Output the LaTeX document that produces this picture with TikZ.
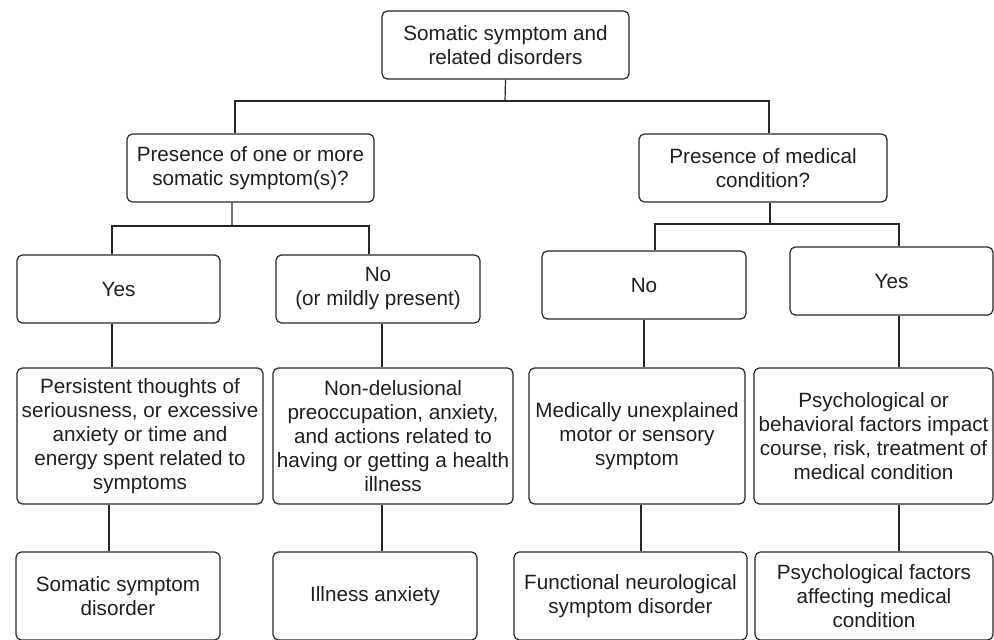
\documentclass[tikz,border=0pt]{standalone}
\usepackage{fontspec}
\setmainfont{Liberation Sans}
\usepackage{tikz}

\begin{document}
\begin{tikzpicture}[x=0.75pt,y=0.75pt,yscale=-1,xscale=1,
  box/.style={draw=black!85,line width=0.9pt,rounded corners=4pt,inner sep=0pt,align=center,
    text=black!88,font=\fontsize{15.5}{18}\selectfont},
  link/.style={draw=black!85,line width=0.9pt}]
\useasboundingbox (0,0) rectangle (994,639);

%Shape: Rounded Rectangle [id:top]
\node [box,minimum width=185.25pt,minimum height=51pt] (top) at (505.5,45) {Somatic symptom and\\related disorders};
%Shape: Rounded Rectangle [id:lq]
\node [box,minimum width=185.25pt,minimum height=51pt] (lq) at (250.5,168) {Presence of one or more\\somatic symptom(s)?};
%Shape: Rounded Rectangle [id:rq]
\node [box,minimum width=186pt,minimum height=51pt] (rq) at (763,168) {Presence of medical\\condition?};
%Shape: Rounded Rectangle [id:yesa]
\node [box,minimum width=152.25pt,minimum height=51pt] (yesa) at (118.5,289) {Yes};
%Shape: Rounded Rectangle [id:noa]
\node [box,minimum width=153pt,minimum height=51pt] (noa) at (378,289) {No\\(or mildly present)};
%Shape: Rounded Rectangle [id:nob]
\node [box,minimum width=153pt,minimum height=51pt] (nob) at (644,285) {No};
%Shape: Rounded Rectangle [id:yesb]
\node [box,minimum width=152.25pt,minimum height=51pt] (yesb) at (891.5,281) {Yes};
%Shape: Rounded Rectangle [id:pers]
\node [box,minimum width=184.5pt,minimum height=102pt] (pers) at (140,436) {Persistent thoughts of\\seriousness, or excessive\\anxiety or time and\\energy spent related to\\symptoms};
%Shape: Rounded Rectangle [id:nondel]
\node [box,minimum width=180pt,minimum height=102pt] (nondel) at (393,436) {Non-delusional\\preoccupation, anxiety,\\and actions related to\\having or getting a health\\illness};
%Shape: Rounded Rectangle [id:medun]
\node [box,minimum width=162pt,minimum height=102pt] (medun) at (637,436) {Medically unexplained\\motor or sensory\\symptom};
%Shape: Rounded Rectangle [id:psych]
\node [box,minimum width=179.25pt,minimum height=102pt] (psych) at (873.5,436) {Psychological or\\behavioral factors impact\\course, risk, treatment of\\medical condition};
%Shape: Rounded Rectangle [id:ssd]
\node [box,minimum width=153pt,minimum height=66pt] (ssd) at (118,596) {Somatic symptom\\disorder};
%Shape: Rounded Rectangle [id:illanx]
\node [box,minimum width=153pt,minimum height=66pt] (illanx) at (375,596) {Illness anxiety};
%Shape: Rounded Rectangle [id:fnsd]
\node [box,minimum width=174.75pt,minimum height=66pt] (fnsd) at (630.5,596) {Functional neurological\\symptom disorder};
%Shape: Rounded Rectangle [id:pfamc]
\node [box,minimum width=178.5pt,minimum height=66pt] (pfamc) at (874,596) {Psychological factors\\affecting medical\\condition};

%Straight Lines [id:bus0]
\coordinate (bus0) at (505,101);
\draw [link] (top.south) -- (bus0);
\draw [link] ([xshift=-11.6pt]lq.north) |- (bus0) -| ([xshift=4.5pt]rq.north);
%Straight Lines [id:bus1]
\coordinate (bus1) at (232,226);
\draw [link] ([xshift=-13.9pt]lq.south) -- (bus1);
\draw [link] ([xshift=-4.9pt]yesa.north) |- (bus1) -| ([xshift=-6.75pt]noa.north);
%Straight Lines [id:bus2]
\coordinate (bus2) at (770,224);
\draw [link] ([xshift=5.25pt]rq.south) -- (bus2);
\draw [link] ([xshift=8.25pt]nob.north) |- (bus2) -| ([xshift=5.6pt]yesb.north);
%Straight Lines [id:down]
\draw [link] ([xshift=-4.9pt]yesa.south) -- ([xshift=-4.9pt]yesa.south |- pers.north);
\draw [link] ([xshift=3pt]noa.south) -- ([xshift=3pt]noa.south |- nondel.north);
\draw [link] (nob.south) -- (nob.south |- medun.north);
\draw [link] ([xshift=5.6pt]yesb.south) -- ([xshift=5.6pt]yesb.south |- psych.north);
\draw [link] ([xshift=-23.25pt]pers.south) -- ([xshift=-23.25pt]pers.south |- ssd.north);
\draw [link] ([xshift=-8.25pt]nondel.south) -- ([xshift=-8.25pt]nondel.south |- illanx.north);
\draw [link] ([xshift=3pt]medun.south) -- ([xshift=3pt]medun.south |- fnsd.north);
\draw [link] ([xshift=19.1pt]psych.south) -- ([xshift=19.1pt]psych.south |- pfamc.north);

\end{tikzpicture}
\end{document}
